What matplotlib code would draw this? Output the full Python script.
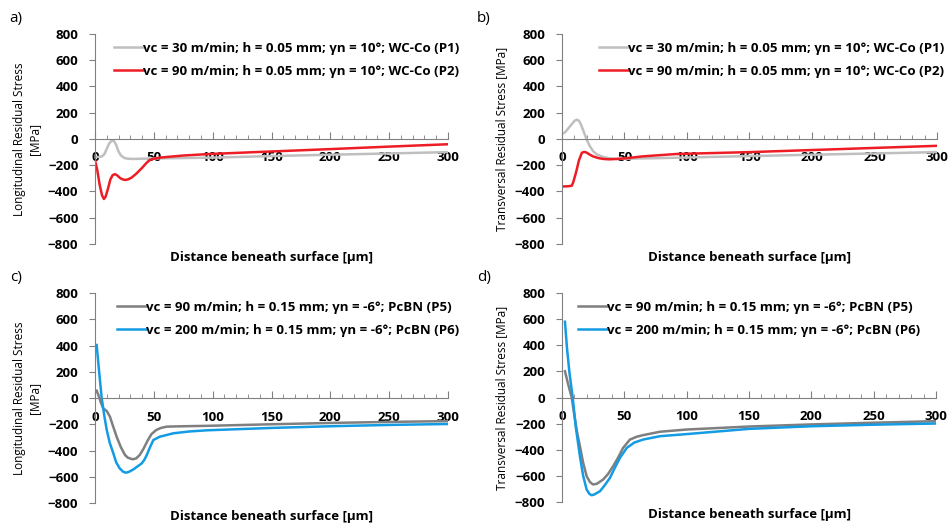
import matplotlib
matplotlib.use('Agg')
import matplotlib.pyplot as plt
from matplotlib.ticker import MultipleLocator

plt.rcParams['font.family'] = ['Open Sans', 'DejaVu Sans']

# a) longitudinal, WC-Co
a_p1_x = [0, 3, 6, 8, 10, 12, 14, 15, 16, 18, 20, 22, 25, 28, 32, 40, 50, 75, 100, 150, 200, 250, 300]
a_p1_y = [-137, -137, -132, -115, -75, -35, -15, -12, -15, -45, -95, -125, -145, -150, -152, -150, -148, -145, -142, -130, -120, -110, -100]
a_p2_x = [0, 2, 4, 6, 7.6, 9, 11, 13, 15, 17, 19, 21, 23, 25.5, 28, 31, 35, 40, 44, 47, 50, 55, 61, 75, 98, 150, 200, 250, 300]
a_p2_y = [-160, -240, -350, -430, -457, -440, -380, -310, -275, -268, -278, -295, -306, -312, -308, -295, -265, -220, -180, -158, -150, -142, -137, -126, -114, -95, -77, -58, -40]

# b) transversal, WC-Co
b_p1_x = [0, 2.4, 5, 8, 10, 11.8, 13.5, 15, 17, 19.8, 22, 25, 28, 33, 38, 44, 50, 75, 100, 150, 200, 250, 300]
b_p1_y = [40, 50, 80, 115, 138, 147, 140, 115, 65, -5, -50, -94, -118, -137, -147, -152, -150, -146, -141, -130, -120, -110, -100]
b_p2_x = [0, 2.4, 5, 7.8, 9, 10.5, 11.8, 13.5, 15.8, 17, 18.4, 20, 22, 25, 29, 33, 38, 44, 50, 65, 92, 150, 200, 250, 300]
b_p2_y = [-362, -361, -360, -356, -330, -280, -234, -165, -107, -100, -99, -105, -118, -133, -145, -152, -155, -152, -148, -132, -114, -100, -84, -68, -52]

# c) longitudinal, PcBN
c_p5_x = [1.4, 3, 5, 7, 10, 12.7, 15, 18.4, 22, 25.5, 28, 32, 35, 38, 41, 45, 48, 52, 56, 61, 75, 95, 150, 200, 250, 300]
c_p5_y = [56, 20, -35, -79, -99, -142, -205, -295, -375, -434, -455, -467, -460, -434, -390, -320, -275, -244, -228, -218, -215, -212, -200, -190, -182, -176]
c_p6_x = [1.4, 3, 4.5, 5.7, 8, 10, 12.5, 15.6, 18, 21, 24, 26.3, 29, 32.6, 36, 39.7, 42, 44, 46.5, 49.6, 55, 66.5, 80, 95, 150, 200, 250, 300]
c_p6_y = [404, 250, 110, 0, -140, -244, -340, -422, -490, -536, -562, -569, -562, -544, -522, -498, -470, -434, -380, -320, -295, -269, -255, -246, -228, -215, -205, -198]

# d) transversal, PcBN
d_p5_x = [2.4, 5, 7.8, 10, 12, 14.4, 17, 19.8, 22.5, 25, 28, 33, 37, 41, 45, 49, 54.5, 60, 65, 78.6, 100, 150, 200, 250, 300]
d_p5_y = [201, 100, 0, -140, -260, -373, -500, -603, -648, -666, -660, -628, -585, -526, -460, -386, -322, -300, -288, -262, -245, -222, -206, -193, -181]
d_p6_x = [2.4, 4, 6, 8.6, 11, 14.4, 17, 19.8, 22, 23.8, 26, 30.5, 34, 38.5, 42, 46.5, 52, 58, 65, 78.6, 100, 150, 200, 250, 300]
d_p6_y = [580, 380, 190, 0, -220, -450, -600, -705, -738, -748, -742, -717, -675, -615, -545, -462, -385, -345, -322, -296, -280, -240, -220, -208, -199]

leg_wc = ['vc = 30 m/min; h = 0.05 mm; γn = 10°; WC-Co (P1)',
          'vc = 90 m/min; h = 0.05 mm; γn = 10°; WC-Co (P2)']
leg_cbn = ['vc = 90 m/min; h = 0.15 mm; γn = -6°; PcBN (P5)',
           'vc = 200 m/min; h = 0.15 mm; γn = -6°; PcBN (P6)']

ylab_long = 'Longitudinal Residual Stress\n[MPa]'
ylab_trans = 'Transversal Residual Stress [MPa]'
xlab = 'Distance beneath surface [µm]'

c_light = '#bfbfbf'
c_red = '#ee1c25'
c_dark = '#7f7f7f'
c_blue = '#139be3'

fig = plt.figure(figsize=(9.48, 5.27), dpi=100)

# posição do eixo, letra, séries, legenda, rótulo y, âncora x da legenda
paineis = [
    ([0.1002, 0.537, 0.3724, 0.3985], 'a)', (a_p1_x, a_p1_y, c_light), (a_p2_x, a_p2_y, c_red), leg_wc, ylab_long, 1.065),
    ([0.5928, 0.537, 0.3956, 0.3985], 'b)', (b_p1_x, b_p1_y, c_light), (b_p2_x, b_p2_y, c_red), leg_wc, ylab_trans, 1.052),
    ([0.1002, 0.0455, 0.3724, 0.3985], 'c)', (c_p5_x, c_p5_y, c_dark), (c_p6_x, c_p6_y, c_blue), leg_cbn, ylab_long, 1.065),
    ([0.5928, 0.0474, 0.3946, 0.3966], 'd)', (d_p5_x, d_p5_y, c_dark), (d_p6_x, d_p6_y, c_blue), leg_cbn, ylab_trans, 0.99),
]

for pos, letra, s1, s2, legenda, ylab, leg_x in paineis:
    ax = fig.add_axes(pos)
    ax.plot(s1[0], s1[1], color=s1[2], lw=1.8, label=legenda[0])
    ax.plot(s2[0], s2[1], color=s2[2], lw=1.8, label=legenda[1])
    ax.set_xlim(0, 300)
    ax.set_ylim(-800, 800)

    # eixo x cruzando no zero, como no Excel
    ax.spines['top'].set_visible(False)
    ax.spines['right'].set_visible(False)
    ax.spines['bottom'].set_position(('data', 0))
    for s in ('left', 'bottom'):
        ax.spines[s].set_color('#808080')
        ax.spines[s].set_linewidth(0.8)

    ax.xaxis.set_major_locator(MultipleLocator(50))
    ax.xaxis.set_minor_locator(MultipleLocator(10))
    ax.yaxis.set_major_locator(MultipleLocator(200))
    ax.tick_params(axis='x', which='major', direction='in', length=5, color='#808080', pad=9, labelsize=9.5)
    ax.tick_params(axis='x', which='minor', direction='in', length=3, color='#808080')
    ax.tick_params(axis='y', direction='out', length=4, color='#808080', pad=8, labelsize=9.5)
    for t in ax.get_xticklabels() + ax.get_yticklabels():
        t.set_fontweight('bold')

    ax.set_ylabel(ylab, fontsize=8.5, labelpad=5)
    ax.text(0.5, -0.062, xlab, transform=ax.transAxes, ha='center', va='center',
            fontsize=9.5, fontweight='bold')

    ax.legend(loc='upper right', bbox_to_anchor=(leg_x, 1.02), frameon=False,
              prop={'weight': 'bold', 'size': 9.5}, handlelength=2.2,
              handletextpad=0.0, labelspacing=0.75)

    fig.text(pos[0] - 0.09, pos[1] + pos[3] + 0.03, letra, fontsize=11, va='center')

plt.savefig('out.png', dpi=100)
